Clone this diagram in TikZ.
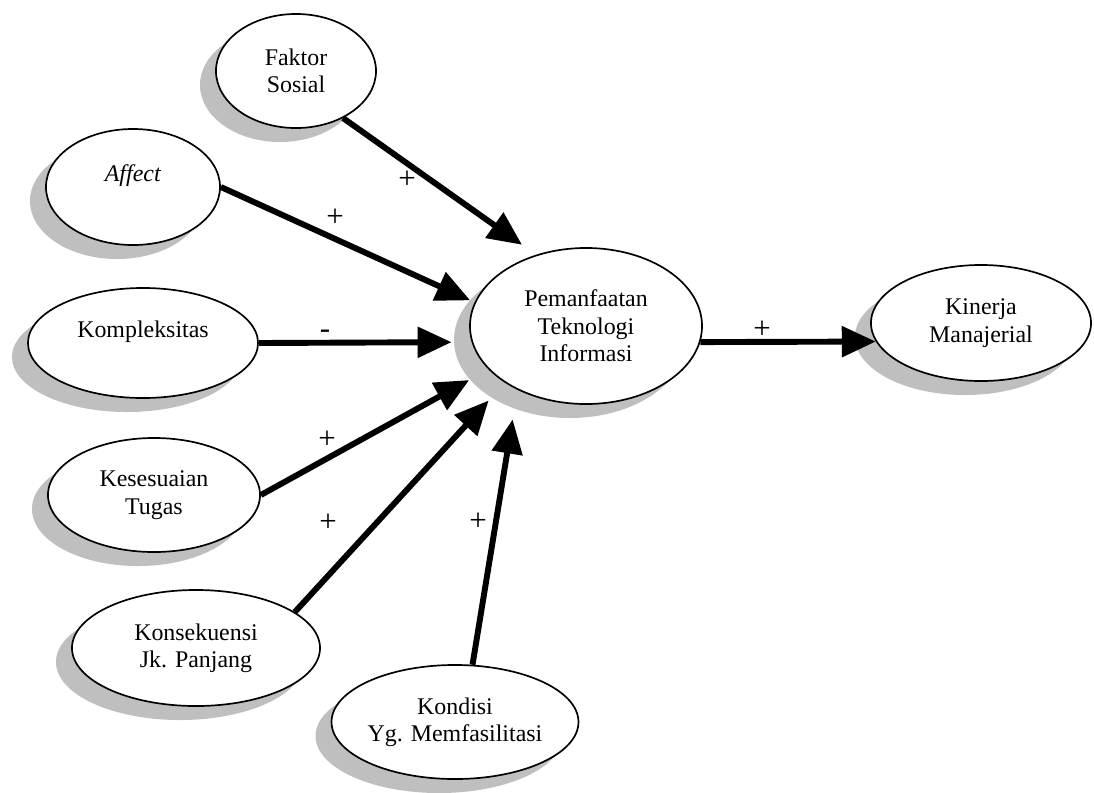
\documentclass[tikz,border=0pt]{standalone}
\usepackage{fontspec}
\setmainfont{Liberation Serif}
\usetikzlibrary{shapes.geometric,shadows,arrows.meta}

\begin{document}
\begin{tikzpicture}[x=0.025cm, y=-0.025cm,
        var/.style={ellipse, draw, line width=1.2pt, fill=white, inner sep=0pt, align=center,
            font=\fontsize{17}{19.5}\selectfont,
            drop shadow={shadow xshift=-0.4cm, shadow yshift=-0.35cm, fill=gray!50, opacity=1}},
        link/.style={line width=4.2pt, -{Triangle[length=0.85cm, width=0.75cm]}},
        sign/.style={font=\fontsize{22}{22}\selectfont}]
            \useasboundingbox (0, 0) rectangle (1094, 792);

            \node[var, minimum width=4cm, minimum height=2.85cm] (FS) at (296, 71) {Faktor\\Sosial};
            \node[var, minimum width=4.35cm, minimum height=2.9cm] (AF) at (133, 187) {\textit{Affect}\\\mbox{}};
            \node[var, minimum width=5.75cm, minimum height=2.75cm] (KO) at (143, 343) {Kompleksitas\\\mbox{}};
            \node[var, minimum width=5.3cm, minimum height=2.85cm] (KT) at (154, 495) {Kesesuaian\\Tugas};
            \node[var, minimum width=6.2cm, minimum height=2.9cm] (KJ) at (196, 648) {Konsekuensi\\Jk. Panjang};
            \node[var, minimum width=6cm, minimum height=2.85cm] (KY) at (455, 722) {Kondisi\\Yg. Memfasilitasi};
            \node[var, minimum width=5.8cm, minimum height=3.9cm] (PTI) at (586, 326) {Pemanfaatan\\Teknologi\\Informasi};
            \node[var, minimum width=5.5cm, minimum height=2.9cm] (KM) at (981, 323) {Kinerja\\Manajerial};

            \draw[link, shorten >=0.43cm] (FS.-45) -- (PTI.125);
            \draw[link, shorten >=0.12cm] (AF.east) -- (PTI.168);
            \draw[link, shorten >=0.5cm] (KO.east) -- (PTI.188);
            \draw[link, shorten >=0.55cm] (KT.east) -- (PTI.204);
            \draw[link, shorten >=0.6cm] (KJ.20) -- (PTI.215);
            \draw[link, shorten >=0.75cm] (KY.73) -- (PTI.223);
            \draw[link] (PTI.-8) -- (KM.190);

            \node[sign] (s1) at (407, 180) {+};
            \node[sign] (s2) at (335, 218) {+};
            \node[sign] (s3) at (325, 334) {-};
            \node[sign] (s4) at (327, 440) {+};
            \node[sign] (s5) at (328, 523) {+};
            \node[sign] (s6) at (478, 522) {+};
            \node[sign] (s7) at (762, 330) {+};

        \end{tikzpicture}
\end{document}
